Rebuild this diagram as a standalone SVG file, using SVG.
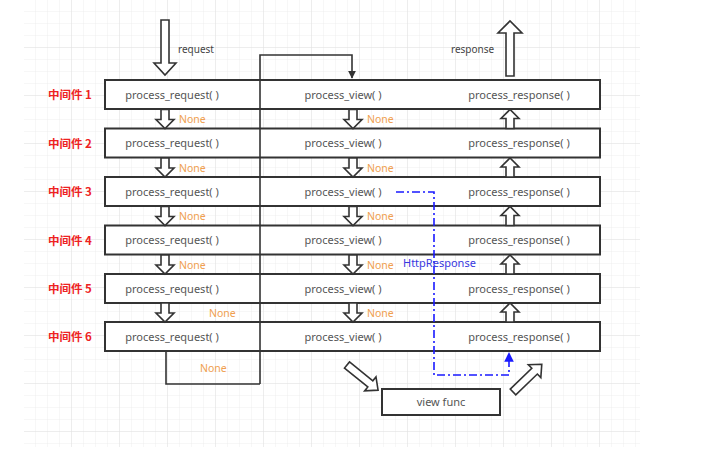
<svg xmlns="http://www.w3.org/2000/svg" width="720" height="457" viewBox="0 0 720 457">
<defs>
  <pattern id="minor" width="12" height="12" patternUnits="userSpaceOnUse" x="24" y="0">
    <path d="M12 0 V12 M0 12 H12" fill="none" stroke="#eeeeee" stroke-width="1"/>
  </pattern>
  <pattern id="major" width="48" height="48" patternUnits="userSpaceOnUse" x="24" y="0">
    <path d="M48 0 V48 M0 48 H48" fill="none" stroke="#e2e2e2" stroke-width="1"/>
  </pattern>
  <marker id="blk" viewBox="0 0 10 10" refX="9" refY="5" markerWidth="5" markerHeight="5" orient="auto">
    <path d="M0 0 L10 5 L0 10 Z" fill="#333"/>
  </marker>
  <marker id="blu" viewBox="0 0 10 10" refX="9" refY="5" markerWidth="6" markerHeight="6" orient="auto">
    <path d="M0 0 L10 5 L0 10 Z" fill="#1a1aff"/>
  </marker>
  <polygon id="dn" points="-4,0 4,0 4,10 9,10 0,19 -9,10 -4,10"/>
  <polygon id="up" points="-4,19 4,19 4,9 9,9 0,0 -9,9 -4,9"/>
  <polygon id="harrow" points="0,-4 30,-4 30,-9 40,0 30,9 30,4 0,4"/>
</defs>
<style>
  .box { fill: #ffffff; stroke: #333333; stroke-width: 2; }
  .ha { fill: #ffffff; stroke: #333333; stroke-width: 1.6; stroke-linejoin: miter; }
  .fn { font-family: "Noto Sans", "Liberation Sans", sans-serif; font-size: 11px; fill: #555555; }
  .lbl { font-family: "Noto Sans", "Liberation Sans", sans-serif; font-size: 10px; fill: #444444; }
  .mw { font-family: "Noto Sans CJK SC", "Noto Sans", sans-serif; font-size: 11.5px; font-weight: bold; fill: #ee2222; }
  .none { font-family: "Noto Sans", "Liberation Sans", sans-serif; font-size: 10.5px; fill: #f0a050; }
  .blue { font-family: "Noto Sans", "Liberation Sans", sans-serif; font-size: 11px; fill: #3838e0; }
  .line { fill: none; stroke: #333333; stroke-width: 1.6; }
</style>
<rect x="0" y="0" width="720" height="457" fill="#ffffff"/>
<rect x="24" y="0" width="616" height="447" fill="url(#minor)"/>
<rect x="24" y="0" width="616" height="447" fill="url(#major)"/>

<g id="rows">
  <g id="mw1"><rect class="box" x="105" y="80" width="495" height="29"/><text class="mw" x="48" y="99">中间件 1</text><text class="fn" x="172" y="98.5" text-anchor="middle">process_request( )</text><text class="fn" x="343" y="98.5" text-anchor="middle">process_view( )</text><text class="fn" x="519" y="98.5" text-anchor="middle">process_response( )</text></g>
  <g id="mw2"><rect class="box" x="105" y="128.5" width="495" height="29"/><text class="mw" x="48" y="147.5">中间件 2</text><text class="fn" x="172" y="147" text-anchor="middle">process_request( )</text><text class="fn" x="343" y="147" text-anchor="middle">process_view( )</text><text class="fn" x="519" y="147" text-anchor="middle">process_response( )</text></g>
  <g id="mw3"><rect class="box" x="105" y="177" width="495" height="29"/><text class="mw" x="48" y="196">中间件 3</text><text class="fn" x="172" y="195.5" text-anchor="middle">process_request( )</text><text class="fn" x="343" y="195.5" text-anchor="middle">process_view( )</text><text class="fn" x="519" y="195.5" text-anchor="middle">process_response( )</text></g>
  <g id="mw4"><rect class="box" x="105" y="225.5" width="495" height="29"/><text class="mw" x="48" y="244.5">中间件 4</text><text class="fn" x="172" y="244" text-anchor="middle">process_request( )</text><text class="fn" x="343" y="244" text-anchor="middle">process_view( )</text><text class="fn" x="519" y="244" text-anchor="middle">process_response( )</text></g>
  <g id="mw5"><rect class="box" x="105" y="274" width="495" height="29"/><text class="mw" x="48" y="293">中间件 5</text><text class="fn" x="172" y="292.5" text-anchor="middle">process_request( )</text><text class="fn" x="343" y="292.5" text-anchor="middle">process_view( )</text><text class="fn" x="519" y="292.5" text-anchor="middle">process_response( )</text></g>
  <g id="mw6"><rect class="box" x="105" y="322" width="495" height="29"/><text class="mw" x="48" y="341">中间件 6</text><text class="fn" x="172" y="340.5" text-anchor="middle">process_request( )</text><text class="fn" x="343" y="340.5" text-anchor="middle">process_view( )</text><text class="fn" x="519" y="340.5" text-anchor="middle">process_response( )</text></g>
</g>

<g id="viewfunc"><rect class="box" x="382" y="389" width="118" height="26"/><text class="fn" x="441" y="406" text-anchor="middle">view func</text></g>

<g id="connectors">
  <polygon class="ha" points="161,20 169,20 169,63 176,63 165,75 154,63 161,63"/>
  <polygon class="ha" points="506,76 514,76 514,33 522,33 510,21 498,33 506,33"/>
  <path class="line" d="M260 384 V55 H352 V78" marker-end="url(#blk)"/>
  <path class="line" d="M166 351 V384 H260"/>
  <use href="#dn" class="ha" x="165" y="109.5"/>
  <use href="#dn" class="ha" x="165" y="158"/>
  <use href="#dn" class="ha" x="165" y="206.5"/>
  <use href="#dn" class="ha" x="165" y="255"/>
  <use href="#dn" class="ha" x="165" y="303"/>
  <use href="#dn" class="ha" x="353" y="109.5"/>
  <use href="#dn" class="ha" x="353" y="158"/>
  <use href="#dn" class="ha" x="353" y="206.5"/>
  <use href="#dn" class="ha" x="353" y="255"/>
  <use href="#dn" class="ha" x="353" y="303"/>
  <use href="#up" class="ha" x="510" y="109.5"/>
  <use href="#up" class="ha" x="510" y="158"/>
  <use href="#up" class="ha" x="510" y="206.5"/>
  <use href="#up" class="ha" x="510" y="255"/>
  <use href="#up" class="ha" x="510" y="303"/>
  <use href="#harrow" class="ha" transform="translate(347,365) rotate(39)"/>
  <use href="#harrow" class="ha" transform="translate(513,392) rotate(-44)"/>
  <path d="M396 192 H434 V375 H509 V353" fill="none" stroke="#1a1aff" stroke-width="1.6" stroke-dasharray="8,3,2,3" marker-end="url(#blu)"/>
</g>

<g id="labels">
  <text class="lbl" x="178" y="53">request</text>
  <text class="lbl" x="451" y="53">response</text>
  <text class="none" x="179" y="123">None</text>
  <text class="none" x="179" y="171.5">None</text>
  <text class="none" x="179" y="220">None</text>
  <text class="none" x="179" y="268.5">None</text>
  <text class="none" x="209" y="316.5">None</text>
  <text class="none" x="200" y="372">None</text>
  <text class="none" x="367" y="123">None</text>
  <text class="none" x="367" y="171.5">None</text>
  <text class="none" x="367" y="220">None</text>
  <text class="none" x="367" y="268.5">None</text>
  <text class="none" x="367" y="316.5">None</text>
  <text class="blue" x="403" y="267">HttpResponse</text>
</g>
</svg>
